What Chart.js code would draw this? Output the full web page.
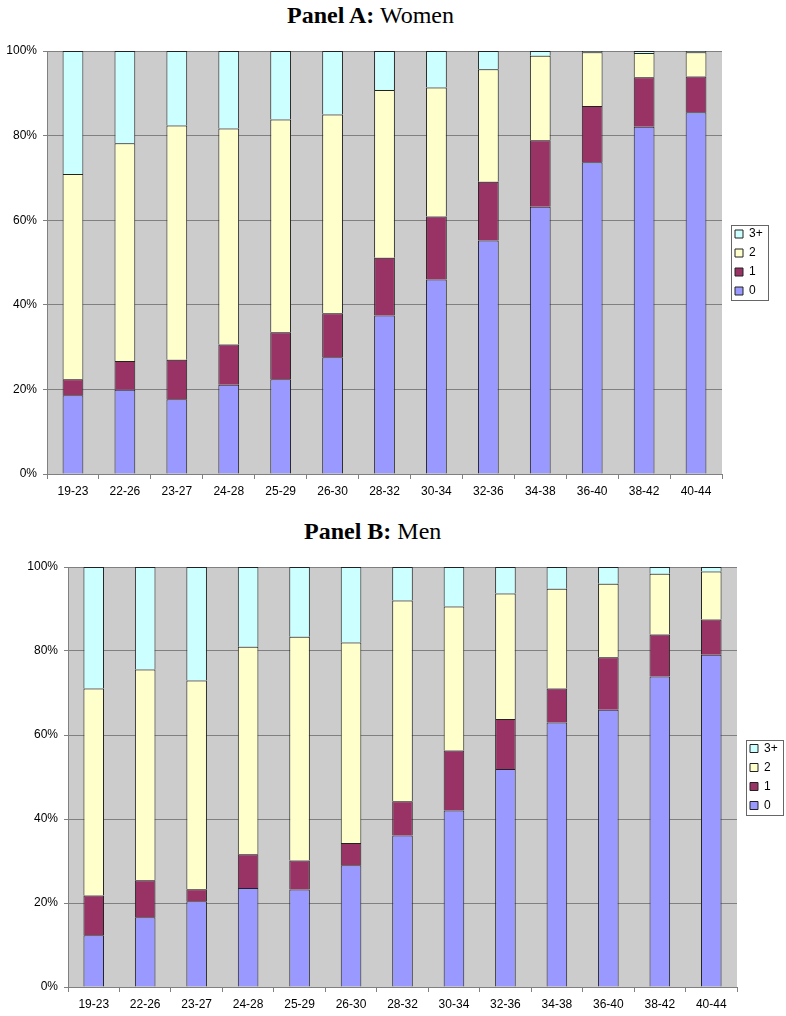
<!DOCTYPE html>
<html>
<head>
<meta charset="utf-8">
<script src="https://cdn.jsdelivr.net/npm/chart.js@4.4.1/dist/chart.umd.min.js"></script>
<style>
  html, body { margin: 0; padding: 0; background: #fff; }
  body { position: relative; width: 786px; height: 1016px; overflow: hidden; }
  .title {
    position: absolute;
    font-family: "Liberation Serif", "Times New Roman", serif;
    font-size: 24px;
    line-height: 24px;
    white-space: nowrap;
    color: #000;
  }
  canvas { position: absolute; left: 0; }
</style>
</head>
<body>
<div class="title" style="left:287px; top:3px;"><b>Panel A:</b> Women</div>
<canvas id="womenChart" width="786" height="469" style="top:31px"></canvas>
<div class="title" style="left:304px; top:519px;"><b>Panel B:</b> Men</div>
<canvas id="menChart" width="786" height="468" style="top:547px"></canvas>

<script>
const ageGroups = ['19-23', '22-26', '23-27', '24-28', '25-29', '26-30', '28-32',
                   '30-34', '32-36', '34-38', '36-40', '38-42', '40-44'];
const seriesLabels = ['0', '1', '2', '3+'];
const yTicks = [0, 20, 40, 60, 80, 100];

// shares in percent
const womenZero  = [18.6, 19.9, 17.7, 21.1, 22.4, 27.6, 37.5, 46.0, 55.2, 63.2, 73.7, 82.1, 85.5];
const womenOne   = [3.8, 6.8, 9.3, 9.5, 11.1, 10.4, 13.6, 14.9, 13.9, 15.7, 13.3, 11.7, 8.5];
const womenTwo   = [48.5, 51.5, 55.4, 51.1, 50.3, 47.0, 39.7, 30.5, 26.6, 20.0, 12.7, 5.7, 5.7];
const womenThree = [29.1, 21.8, 17.6, 18.3, 16.2, 15.0, 9.2, 8.6, 4.3, 1.1, 0.3, 0.5, 0.3];

const menZero  = [12.3, 16.6, 20.4, 23.6, 23.2, 29.0, 36.1, 42.0, 51.9, 63.0, 66.0, 73.9, 79.1];
const menOne   = [9.5, 8.8, 2.9, 8.0, 6.9, 5.3, 8.1, 14.3, 11.9, 8.1, 12.5, 10.0, 8.4];
const menTwo   = [49.3, 50.2, 49.7, 49.4, 53.3, 47.7, 47.8, 34.3, 29.9, 23.7, 17.5, 14.5, 11.4];
const menThree = [28.9, 24.4, 27.0, 19.0, 16.6, 18.0, 8.0, 9.4, 6.3, 5.2, 4.0, 1.6, 1.1];

const seriesColors = ['#9999FF', '#993366', '#FFFFCC', '#CCFFFF'];

Chart.defaults.font.family = '"Liberation Sans", Arial, sans-serif';
Chart.defaults.font.size = 12;
Chart.defaults.color = '#000';

const LEGEND_PAD = 7;
const LEGEND_BOX = 8;

function legendWidth() {
    const ctx = document.createElement('canvas').getContext('2d');
    ctx.font = '12px "Liberation Sans", Arial, sans-serif';
    const w = Math.max(...seriesLabels.map((t) => ctx.measureText(t).width));
    return LEGEND_PAD + LEGEND_BOX + 6 + w + 10;
}

const plotBg = {
    id: 'plotBg',
    beforeDraw(chart) {
        const { ctx, chartArea: a } = chart;
        ctx.save();
        ctx.fillStyle = '#cccccc';
        ctx.fillRect(a.left, a.top, a.width, a.height);
        ctx.restore();
    },
};

// put the legend next to the plot, centred on it, with a thin frame
const legendFrame = {
    id: 'legendFrame',
    afterLayout(chart) {
        const lg = chart.legend;
        const a = chart.chartArea;
        const shift = a.right + 6 - lg.left;
        lg.left += shift;
        lg.right += shift;
        lg.top = a.top;
        lg.bottom = a.bottom;
        lg.height = a.bottom - a.top;
    },
    afterDraw(chart) {
        const boxes = chart.legend.legendHitBoxes;
        if (!boxes || !boxes.length) return;
        const left = Math.min(...boxes.map((b) => b.left)) - 4;
        const top = Math.min(...boxes.map((b) => b.top)) - 3;
        const right = Math.max(...boxes.map((b) => b.left + b.width)) + 5;
        const bottom = Math.max(...boxes.map((b) => b.top + b.height)) + 3;
        const ctx = chart.ctx;
        ctx.save();
        ctx.strokeStyle = '#666';
        ctx.lineWidth = 1;
        ctx.strokeRect(Math.round(left) + 0.5, Math.round(top) + 0.5,
                       Math.round(right - left), Math.round(bottom - top));
        ctx.restore();
    },
};

function makeChart(canvas, values, box) {
    const datasets = values.map((data, i) => ({
        label: seriesLabels[i],
        data: data,
        backgroundColor: seriesColors[i],
        borderColor: '#222',
        borderWidth: 1,
        barPercentage: 0.4,
        categoryPercentage: 1.0,
    }));

    return new Chart(canvas, {
        type: 'bar',
        data: { labels: ageGroups, datasets: datasets },
        options: {
            responsive: false,
            maintainAspectRatio: false,
            animation: false,
            layout: {
                padding: {
                    top: box.top,
                    left: 0,
                    right: canvas.width - box.right - legendWidth(),
                    bottom: 0,
                },
            },
            plugins: {
                legend: {
                    position: 'right',
                    align: 'center',
                    reverse: true,
                    labels: {
                        boxWidth: LEGEND_BOX,
                        boxHeight: LEGEND_BOX,
                        padding: LEGEND_PAD,
                        font: { size: 12 },
                        color: '#000',
                    },
                },
                tooltip: { enabled: false },
            },
            scales: {
                x: {
                    stacked: true,
                    grid: { offset: true, drawOnChartArea: false, tickLength: 5, color: '#808080' },
                    border: { color: '#808080' },
                    ticks: { padding: 5, maxRotation: 0, autoSkip: false },
                    afterFit: (s) => { s.height = box.xAxisHeight; },
                },
                y: {
                    stacked: true,
                    min: 0,
                    max: 100,
                    grid: { color: '#808080', tickLength: 4 },
                    border: { color: '#808080' },
                    afterBuildTicks: (s) => { s.ticks = yTicks.map((v) => ({ value: v })); },
                    ticks: { padding: 6, callback: (v) => v + '%' },
                    afterFit: (s) => { s.width = box.left; },
                },
            },
        },
        plugins: [plotBg, legendFrame],
    });
}

makeChart(document.getElementById('womenChart'),
    [womenZero, womenOne, womenTwo, womenThree],
    { top: 20, left: 47, right: 722, xAxisHeight: 26 });

makeChart(document.getElementById('menChart'),
    [menZero, menOne, menTwo, menThree],
    { top: 20, left: 68, right: 737, xAxisHeight: 28 });
</script>
</body>
</html>
